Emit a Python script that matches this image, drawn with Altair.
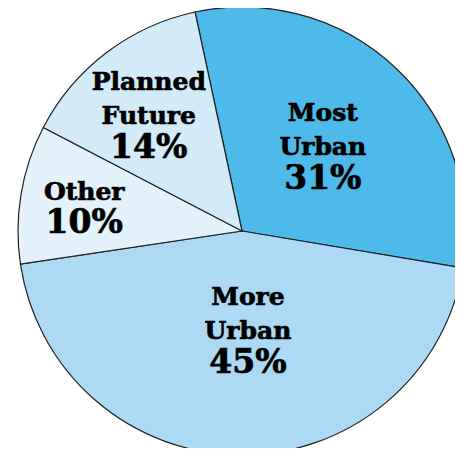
import math
import altair as alt
import pandas as pd

# ---- data ----
categories = ["Most Urban", "More Urban", "Other", "Planned Future"]
shares = [31, 45, 10, 14]
name_lines = ["Most\nUrban", "More\nUrban", "Other", "Planned\nFuture"]
pct_labels = ["31%", "45%", "10%", "14%"]

# ---- styles / layout ----
colors = ["#4DBAE9", "#ACD9F3", "#E3F2FB", "#D3EAF8"]
START = 2 * math.pi - math.radians(12.1)
label_r = {"Most Urban": 117, "More Urban": 99, "Other": 160, "Planned Future": 149}
label_shift = {"Most Urban": 0, "More Urban": -1.1, "Other": 0, "Planned Future": -0.4}
CX, CY, R = 234, 223, 224
FONT = "DejaVu Serif"
NAME_SIZE, PCT_SIZE = 25, 33

df = pd.DataFrame({
    "cat": categories,
    "share": shares,
    "name": name_lines,
    "pct": pct_labels,
    "idx": list(range(len(categories))),
})

theta_scale = alt.Scale(domain=[0, 100], range=[START, START + 2 * math.pi])

pie = alt.Chart(df).mark_arc(outerRadius=R, stroke="#222222", strokeWidth=1.2).encode(
    theta=alt.Theta("share:Q", stack=True, scale=theta_scale),
    order=alt.Order("idx:Q"),
    color=alt.Color("cat:N", scale=alt.Scale(domain=categories, range=colors), legend=None),
    x=alt.value(CX),
    y=alt.value(CY),
)


def lookup_expr(d, default):
    return "".join(f"datum.cat === '{k}' ? {v} : " for k, v in d.items()) + str(default)


lbl = alt.Chart(df).transform_window(
    cum="sum(share)", sort=[alt.SortField("idx")], frame=[None, 0]
).transform_calculate(
    lr=lookup_expr(label_r, 100),
    sh=lookup_expr(label_shift, 0),
    nlines="length(split(datum.name, '\\n'))",
).transform_calculate(
    mid="datum.cum - datum.share / 2 + datum.sh",
).encode(
    theta=alt.Theta("mid:Q", stack=None, scale=theta_scale),
    radius=alt.Radius("lr:Q", scale=None),
    x=alt.value(CX),
    y=alt.value(CY),
)

txt = dict(font=FONT, fontWeight="bold", baseline="middle", align="center",
           color="#000000", stroke="#000000", strokeWidth=0.7)

name2 = lbl.transform_calculate(
    t="datum.nlines > 1 ? datum.name : ''"
).mark_text(fontSize=NAME_SIZE, lineBreak="\n", lineHeight=34, dy=-33, **txt).encode(text="t:N")

name1 = lbl.transform_calculate(
    t="datum.nlines > 1 ? '' : datum.name"
).mark_text(fontSize=NAME_SIZE, dy=-13, **txt).encode(text="t:N")

pct2 = lbl.transform_calculate(
    t="datum.nlines > 1 ? datum.pct : ''"
).mark_text(fontSize=PCT_SIZE, dy=33, **txt).encode(text="t:N")

pct1 = lbl.transform_calculate(
    t="datum.nlines > 1 ? '' : datum.pct"
).mark_text(fontSize=PCT_SIZE, dy=18, **txt).encode(text="t:N")

chart = alt.layer(pie, name2, name1, pct2, pct1).properties(
    width=447, height=440, padding=0,
    autosize=alt.AutoSizeParams(type="none"),
).configure_view(stroke=None)

chart.save("out.html", embed_options={"renderer": "svg", "actions": False})
